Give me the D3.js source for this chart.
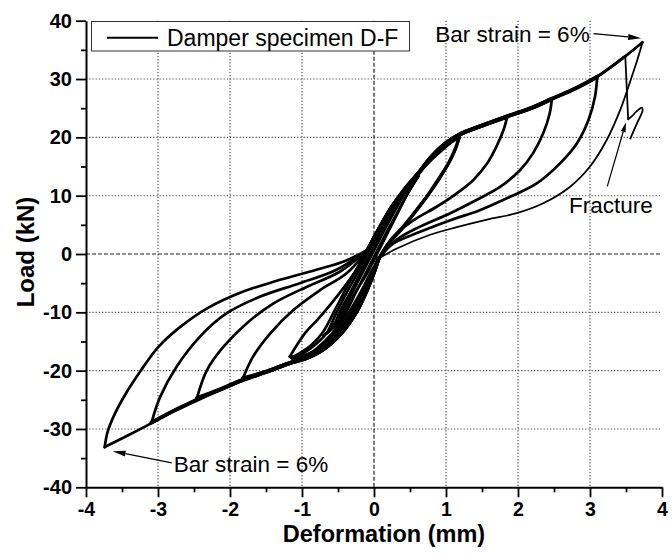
<!DOCTYPE html>
<html>
<head>
<meta charset="utf-8">
<script src="https://cdn.jsdelivr.net/npm/d3@7"></script>
<style>
  body { margin: 0; background: #fff; }
  svg { display: block; }
  text { font-family: "Liberation Sans", Arial, Helvetica, sans-serif; }
</style>
</head>
<body>
<svg id="chart" width="672" height="556"></svg>
<script>
// ---- axis ticks ----
const xTicks = [-4, -3, -2, -1, 0, 1, 2, 3, 4];
const yTicks = [-40, -30, -20, -10, 0, 10, 20, 30, 40];
const xMinor = [-3.5, -2.5, -1.5, -0.5, 0.5, 1.5, 2.5, 3.5];
const yMinor = [-35, -25, -15, -5, 5, 15, 25, 35];

// ---- measured hysteresis branches: [deformation (mm), load (kN)] ----
// small cycles (about ±0.6 mm)
const smallUpA   = [[-0.66,-13.6],[-0.57,-12.6],[-0.48,-10.0],[-0.33,-6.6],[-0.18,-3.0],[-0.03,0.6],[0.13,4.4],[0.29,7.8],[0.45,10.9],[0.62,13.4]];
const smallDownA = [[0.62,13.4],[0.46,10.2],[0.31,6.8],[0.16,3.4],[0.02,0.0],[-0.12,-3.4],[-0.26,-6.8],[-0.39,-10.0],[-0.52,-12.2],[-0.66,-13.6]];
const smallUpB   = [[-0.70,-14.0],[-0.60,-12.8],[-0.45,-10.0],[-0.30,-6.6],[-0.15,-3.0],[0.00,0.6],[0.15,4.2],[0.30,7.6],[0.45,10.8],[0.61,13.2]];
const smallDownB = [[0.61,13.2],[0.47,10.4],[0.33,7.0],[0.19,3.6],[0.05,0.2],[-0.10,-3.4],[-0.27,-6.8],[-0.42,-10.0],[-0.56,-12.4],[-0.70,-14.0]];

// repeated cycles at about ±1.2 mm
const down12a = [[1.19,20.4],[1.13,18.2],[1.04,15.8],[0.92,13.4],[0.77,10.6],[0.60,7.8],[0.42,5.0],[0.25,2.6],[0.12,0.4],[0.01,-2.4],[-0.12,-6.0],[-0.28,-10.0],[-0.50,-13.6],[-0.76,-16.4],[-1.00,-17.6],[-1.17,-17.6]];
const up12a   = [[-1.17,-17.6],[-0.96,-13.6],[-0.78,-11.2],[-0.60,-8.6],[-0.41,-5.6],[-0.25,-2.8],[-0.12,0.0],[0.00,2.6],[0.22,7.6],[0.43,11.0],[0.61,13.8],[0.80,16.6],[1.00,18.8],[1.19,20.2]];
const down12b = [[1.19,20.2],[1.13,17.9],[1.03,15.4],[0.91,13.0],[0.76,10.3],[0.59,7.5],[0.41,4.7],[0.24,2.3],[0.11,0.0],[0.00,-2.6],[-0.14,-6.2],[-0.31,-10.0],[-0.54,-13.6],[-0.82,-16.6],[-1.02,-17.6],[-1.15,-17.8]];
const up12b   = [[-1.15,-17.8],[-1.02,-16.9],[-0.87,-15.6],[-0.72,-13.6],[-0.56,-10.0],[-0.40,-6.2],[-0.24,-2.6],[-0.09,0.9],[0.06,4.2],[0.23,7.9],[0.42,11.2],[0.60,13.8],[0.80,16.4],[1.01,18.6],[1.19,20.0]];
const down12c = [[1.19,20.0],[1.12,17.6],[1.02,15.1],[0.90,12.7],[0.75,10.0],[0.58,7.2],[0.40,4.4],[0.23,2.0],[0.10,-0.4],[-0.02,-2.6],[-0.17,-6.2],[-0.35,-10.0],[-0.58,-13.6],[-0.86,-16.8],[-1.13,-18.0]];
const up12c   = [[-1.13,-18.0],[-0.98,-17.0],[-0.82,-15.6],[-0.66,-13.6],[-0.52,-10.0],[-0.36,-6.2],[-0.20,-2.6],[-0.05,1.0],[0.10,4.4],[0.27,8.0],[0.45,11.2],[0.62,13.8],[0.82,16.4],[1.02,18.6],[1.19,20.4]];

// loading envelopes shared by the larger cycles
const envelopePos = [[-0.08,0.8],[0.04,3.6],[0.25,8.1],[0.45,11.2],[0.61,13.7],[0.80,16.7],[1.00,19.0],[1.19,20.5],[1.50,22.0],[1.85,23.6],[2.20,25.1],[2.47,26.6],[2.80,28.4],[3.10,30.4],[3.49,33.9],[3.73,36.3]];
const envelopeNeg = [[0.06,-0.8],[0.02,-2.4],[-0.10,-6.2],[-0.25,-10.0],[-0.45,-13.5],[-0.70,-16.3],[-0.95,-17.9],[-1.17,-18.7],[-1.50,-20.2],[-1.82,-21.6],[-2.15,-23.3],[-2.46,-25.0],[-2.80,-27.0],[-3.09,-29.0],[-3.40,-31.0],[-3.74,-33.1]];

// unloading from the positive peaks
const unload18 = [[1.85,23.5],[1.80,21.3],[1.70,18.4],[1.57,15.5],[1.38,12.7],[1.15,10.4],[0.87,8.1],[0.55,5.8],[0.27,3.0],[0.06,-0.8]];
const unload25 = [[2.47,26.6],[2.44,24.1],[2.35,20.7],[2.21,17.3],[2.03,14.4],[1.75,11.5],[1.43,9.3],[1.06,7.0],[0.64,4.7],[0.31,2.4],[0.06,-0.8]];
const unload31 = [[3.10,30.4],[3.07,27.0],[2.98,23.0],[2.82,19.0],[2.58,15.5],[2.26,12.1],[1.89,9.8],[1.47,7.5],[1.06,5.8],[0.64,3.8],[0.27,1.8],[0.06,-0.8]];
const unload37 = [[3.73,36.3],[3.66,33.4],[3.58,30.4],[3.42,24.7],[3.23,19.5],[3.00,15.0],[2.72,11.5],[2.35,8.7],[1.98,7.0],[1.57,5.9],[1.15,4.6],[0.78,3.3],[0.31,0.9],[0.06,-0.8]];

// unloading from the negative peaks
const reload18 = [[-1.82,-21.3],[-1.68,-17.6],[-1.44,-13.6],[-1.12,-9.6],[-0.75,-6.2],[-0.38,-3.3],[-0.08,0.8]];
const reload25 = [[-2.46,-24.7],[-2.32,-19.9],[-2.09,-15.9],[-1.77,-11.9],[-1.40,-8.5],[-0.93,-5.6],[-0.47,-3.0],[-0.08,0.8]];
const reload31 = [[-3.09,-28.9],[-2.97,-24.5],[-2.74,-19.3],[-2.42,-14.2],[-2.05,-10.2],[-1.58,-7.3],[-1.03,-5.0],[-0.52,-2.7],[-0.08,0.8]];
const reload37 = [[-3.74,-33.1],[-3.70,-30.5],[-3.60,-27.4],[-3.45,-24.0],[-3.25,-20.2],[-3.00,-16.0],[-2.69,-12.5],[-2.30,-9.2],[-1.85,-6.6],[-1.35,-4.6],[-0.80,-2.7],[-0.40,-1.2],[-0.08,0.8]];

// final reloading ends in bar fracture
const fractureDrop = [[3.49,33.9],[3.53,23.1]];
const fractureTail = [[3.53,23.1],[3.58,23.6],[3.65,24.5],[3.72,25.1],[3.73,24.6],[3.66,22.6],[3.56,19.8]];

// annotation anchors (data units)
const strainTopText = [0.85, 36.4];
const strainTopArrow = [[3.05, 37.8], [3.71, 37.0]];
const strainBotText = [-2.78, -37.4];
const strainBotArrow = [[-2.81, -35.8], [-3.63, -33.8]];
const fractureText = [2.71, 7.0];
const fractureArrow = [[3.24, 11.6], [3.50, 22.6]];

// ---- layout ----
const svg = d3.select("#chart");
const x = d3.scaleLinear().domain([-4, 4]).range([86, 662]);
const y = d3.scaleLinear().domain([-40, 40]).range([487.3, 20.7]);

const line = d3.line().x(d => x(d[0])).y(d => y(d[1])).curve(d3.curveCatmullRom.alpha(0.5));
const straight = d3.line().x(d => x(d[0])).y(d => y(d[1]));

// grid
const grid = svg.append("g");
grid.selectAll(".gx").data(xTicks.filter(v => v !== 0 && Math.abs(v) !== 4)).join("line")
  .attr("x1", d => x(d)).attr("x2", d => x(d)).attr("y1", y(40)).attr("y2", y(-40))
  .attr("stroke", "#444").attr("stroke-width", 1.1).attr("stroke-dasharray", "1.2,2");
grid.selectAll(".gy").data(yTicks.filter(v => v !== 0 && Math.abs(v) !== 40)).join("line")
  .attr("x1", x(-4)).attr("x2", x(4)).attr("y1", d => y(d)).attr("y2", d => y(d))
  .attr("stroke", "#444").attr("stroke-width", 1.1).attr("stroke-dasharray", "1.2,2");
grid.append("line").attr("x1", x(0)).attr("x2", x(0)).attr("y1", y(40)).attr("y2", y(-40))
  .attr("stroke", "#222").attr("stroke-width", 1.2).attr("stroke-dasharray", "4,2");
grid.append("line").attr("x1", x(-4)).attr("x2", x(4)).attr("y1", y(0)).attr("y2", y(0))
  .attr("stroke", "#222").attr("stroke-width", 1.2).attr("stroke-dasharray", "4,2");

// legend
const legend = svg.append("g");
legend.append("rect").attr("x", 91.5).attr("y", 21.5).attr("width", 318).attr("height", 29.5)
  .attr("fill", "#fff").attr("stroke", "#333").attr("stroke-width", 1);
legend.append("line").attr("x1", 107).attr("x2", 158).attr("y1", 37.7).attr("y2", 37.7)
  .attr("stroke", "#000").attr("stroke-width", 2);
legend.append("text").attr("x", 167).attr("y", 46).attr("font-size", 23).text("Damper specimen D-F");

// curves
const curves = svg.append("g").attr("fill", "none").attr("stroke", "#000")
  .attr("stroke-linecap", "round").attr("stroke-linejoin", "round");
function draw(pts, w, fn) {
  curves.append("path").attr("d", (fn || line)(pts)).attr("stroke-width", w);
}

[smallUpA, smallDownA, smallUpB, smallDownB].forEach(p => draw(p, 2.6));
[down12a, up12a, down12b, up12b, down12c, up12c].forEach(p => draw(p, 2.7));

const peaksPos = [unload18, unload25, unload31, unload37];
const peaksNeg = [reload18, reload25, reload31, reload37];
peaksPos.forEach((u, i) => {
  const pk = u[0];
  const nk = peaksNeg[i][0];
  const envW = i < 3 ? 4.0 : 2.8;
  draw(envelopePos.filter(p => p[0] < pk[0] - 0.02).concat([pk]), envW);
  draw(u, i === 3 ? 1.8 : 2.7);
  draw(envelopeNeg.filter(p => p[0] > nk[0] + 0.02).concat([nk]), envW);
  draw(peaksNeg[i], 2.7);
});
draw(envelopePos.filter(p => p[0] < fractureDrop[0][0]).concat([fractureDrop[0]]), 2.8);
draw(fractureDrop, 1.8, straight);
draw(fractureTail, 1.8);

// axes
function styleAxis(g, fs) {
  g.attr("font-family", null).attr("font-size", null);
  g.select(".domain").attr("stroke-width", 2);
  g.selectAll(".tick line").attr("stroke-width", 1.8);
  g.selectAll(".tick text").attr("font-size", fs).attr("font-weight", "bold")
    .attr("font-family", '"Liberation Sans", Arial, sans-serif').attr("fill", "#000");
}
const xAxis = svg.append("g").attr("transform", `translate(0,${y(-40)})`)
  .call(d3.axisBottom(x).tickValues(xTicks).tickSize(10).tickSizeOuter(0).tickPadding(5).tickFormat(d => String(d)));
styleAxis(xAxis, 19.5);
const xAxisMinor = svg.append("g").attr("transform", `translate(0,${y(-40)})`)
  .call(d3.axisBottom(x).tickValues(xMinor).tickSize(5).tickFormat(""));
xAxisMinor.select(".domain").remove();
xAxisMinor.selectAll(".tick line").attr("stroke-width", 1.8);

const yAxis = svg.append("g").attr("transform", `translate(${x(-4)},0)`)
  .call(d3.axisLeft(y).tickValues(yTicks).tickSize(10).tickSizeOuter(0).tickPadding(4).tickFormat(d => String(d)));
styleAxis(yAxis, 20);
const yAxisMinor = svg.append("g").attr("transform", `translate(${x(-4)},0)`)
  .call(d3.axisLeft(y).tickValues(yMinor).tickSize(5).tickFormat(""));
yAxisMinor.select(".domain").remove();
yAxisMinor.selectAll(".tick line").attr("stroke-width", 1.8);

// axis titles
svg.append("text").attr("x", 384).attr("y", 542).attr("text-anchor", "middle")
  .attr("font-size", 23.5).attr("font-weight", "bold").text("Deformation (mm)");
svg.append("text").attr("transform", "translate(34,252) rotate(-90)").attr("text-anchor", "middle")
  .attr("font-size", 24).attr("font-weight", "bold").text("Load (kN)");

// annotations
const notes = svg.append("g");
function arrow(a, len, wid) {
  const x0 = x(a[0][0]), y0 = y(a[0][1]), x1 = x(a[1][0]), y1 = y(a[1][1]);
  const ang = Math.atan2(y1 - y0, x1 - x0);
  const bx = x1 - len * Math.cos(ang), by = y1 - len * Math.sin(ang);
  notes.append("line").attr("x1", x0).attr("y1", y0).attr("x2", bx).attr("y2", by)
    .attr("stroke", "#000").attr("stroke-width", 1.2);
  const nx = -Math.sin(ang) * wid / 2, ny = Math.cos(ang) * wid / 2;
  notes.append("polygon").attr("points", `${x1},${y1} ${bx + nx},${by + ny} ${bx - nx},${by - ny}`)
    .attr("fill", "#000");
}
notes.append("text").attr("x", x(strainTopText[0])).attr("y", y(strainTopText[1]))
  .attr("font-size", 22.5).text("Bar strain = 6%");
notes.append("text").attr("x", x(strainBotText[0])).attr("y", y(strainBotText[1]))
  .attr("font-size", 22.5).text("Bar strain = 6%");
notes.append("text").attr("x", x(fractureText[0])).attr("y", y(fractureText[1]))
  .attr("font-size", 22.5).text("Fracture");
arrow(strainTopArrow, 13, 6);
arrow(strainBotArrow, 13, 6);
arrow(fractureArrow, 10, 5);
</script>
</body>
</html>
